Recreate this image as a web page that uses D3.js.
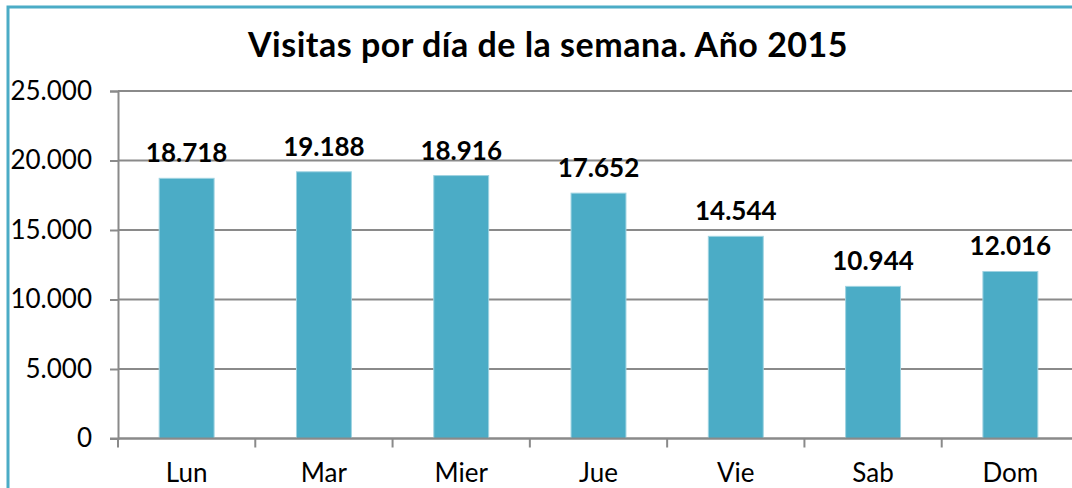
<!DOCTYPE html>
<html>
<head>
<meta charset="utf-8">
<script src="https://cdn.jsdelivr.net/npm/d3@7"></script>
<style>
  body { margin: 0; background: #fff; }
  svg { display: block; font-family: Lato, "DejaVu Sans", sans-serif; }
</style>
</head>
<body>
<div id="chart"></div>
<script>
// data
var dias = ["Lun", "Mar", "Mier", "Jue", "Vie", "Sab", "Dom"];
var visitas = [18718, 19188, 18916, 17652, 14544, 10944, 12016];
var yTicks = [0, 5000, 10000, 15000, 20000, 25000];
var titulo = "Visitas por día de la semana. Año 2015";

var W = 1072, H = 488;
var plotLeft = 118, plotRight = 1079, plotTop = 91, plotBottom = 438.5;
var barColor = "#4BACC6",
    gridColor = "#8a8a8a";

var fmt = function(v) {
    // spanish thousands separator
    return d3.format(",")(v).replace(/,/g, ".");
};

var svg = d3.select("#chart").append("svg")
    .attr("width", W)
    .attr("height", H);

// outer frame of the chart
svg.append("rect")
    .attr("x", 8).attr("y", 7)
    .attr("width", 1100).attr("height", 520)
    .attr("fill", "none")
    .attr("stroke", barColor)
    .attr("stroke-width", 3);

var x = d3.scaleBand()
    .domain(dias)
    .range([plotLeft, plotRight])
    .padding(0);

var y = d3.scaleLinear()
    .domain([0, 25000])
    .range([plotBottom, plotTop]);

// horizontal gridlines
svg.append("g").selectAll("line")
    .data(yTicks)
  .enter().append("line")
    .attr("x1", plotLeft).attr("x2", W + 20)
    .attr("y1", function(d) { return y(d); })
    .attr("y2", function(d) { return y(d); })
    .attr("stroke", gridColor)
    .attr("stroke-width", 2);

// y axis
var yAxis = svg.append("g")
    .attr("transform", "translate(" + plotLeft + ",0)")
    .call(d3.axisLeft(y).tickValues(yTicks).tickFormat(fmt).tickSize(8).tickPadding(18));
yAxis.select(".domain").attr("stroke", gridColor).attr("stroke-width", 2);
yAxis.selectAll(".tick line").attr("stroke", gridColor).attr("stroke-width", 2);
yAxis.selectAll(".tick text")
    .attr("fill", "#000")
    .attr("font-family", "Lato, sans-serif")
    .attr("font-size", "26px");

// bars
var bw = x.bandwidth() * 0.4;
svg.append("g").selectAll("rect")
    .data(visitas)
  .enter().append("rect")
    .attr("x", function(d, i) { return x(dias[i]) + (x.bandwidth() - bw) / 2; })
    .attr("y", function(d) { return y(d); })
    .attr("width", bw)
    .attr("height", function(d) { return y(0) - y(d); })
    .attr("fill", barColor)
    .attr("stroke", "#9fd3e1")
    .attr("stroke-width", 1);

// x axis with ticks between categories
var xAxis = svg.append("g")
    .attr("transform", "translate(0," + plotBottom + ")");
xAxis.append("line")
    .attr("x1", plotLeft - 8).attr("x2", W + 20)
    .attr("stroke", gridColor).attr("stroke-width", 2);
xAxis.selectAll(".sep")
    .data(dias)
  .enter().append("line")
    .attr("class", "sep")
    .attr("x1", function(d) { return x(d); })
    .attr("x2", function(d) { return x(d); })
    .attr("y1", 0).attr("y2", 9)
    .attr("stroke", gridColor).attr("stroke-width", 2);
xAxis.selectAll("text")
    .data(dias)
  .enter().append("text")
    .attr("x", function(d) { return x(d) + x.bandwidth() / 2; })
    .attr("y", 43)
    .attr("text-anchor", "middle")
    .attr("font-size", "26px")
    .attr("fill", "#000")
    .text(function(d) { return d; });

// value labels
svg.append("g").selectAll("text")
    .data(visitas)
  .enter().append("text")
    .attr("x", function(d, i) { return x(dias[i]) + x.bandwidth() / 2; })
    .attr("y", function(d) { return y(d) - 16; })
    .attr("text-anchor", "middle")
    .attr("font-size", "26px")
    .attr("font-weight", "bold")
    .attr("fill", "#000")
    .text(fmt);

// title
svg.append("text")
    .attr("x", 548)
    .attr("y", 57)
    .attr("text-anchor", "middle")
    .attr("font-size", "34px")
    .attr("font-weight", "bold")
    .attr("letter-spacing", "0.5px")
    .attr("fill", "#000")
    .text(titulo);
</script>
</body>
</html>
